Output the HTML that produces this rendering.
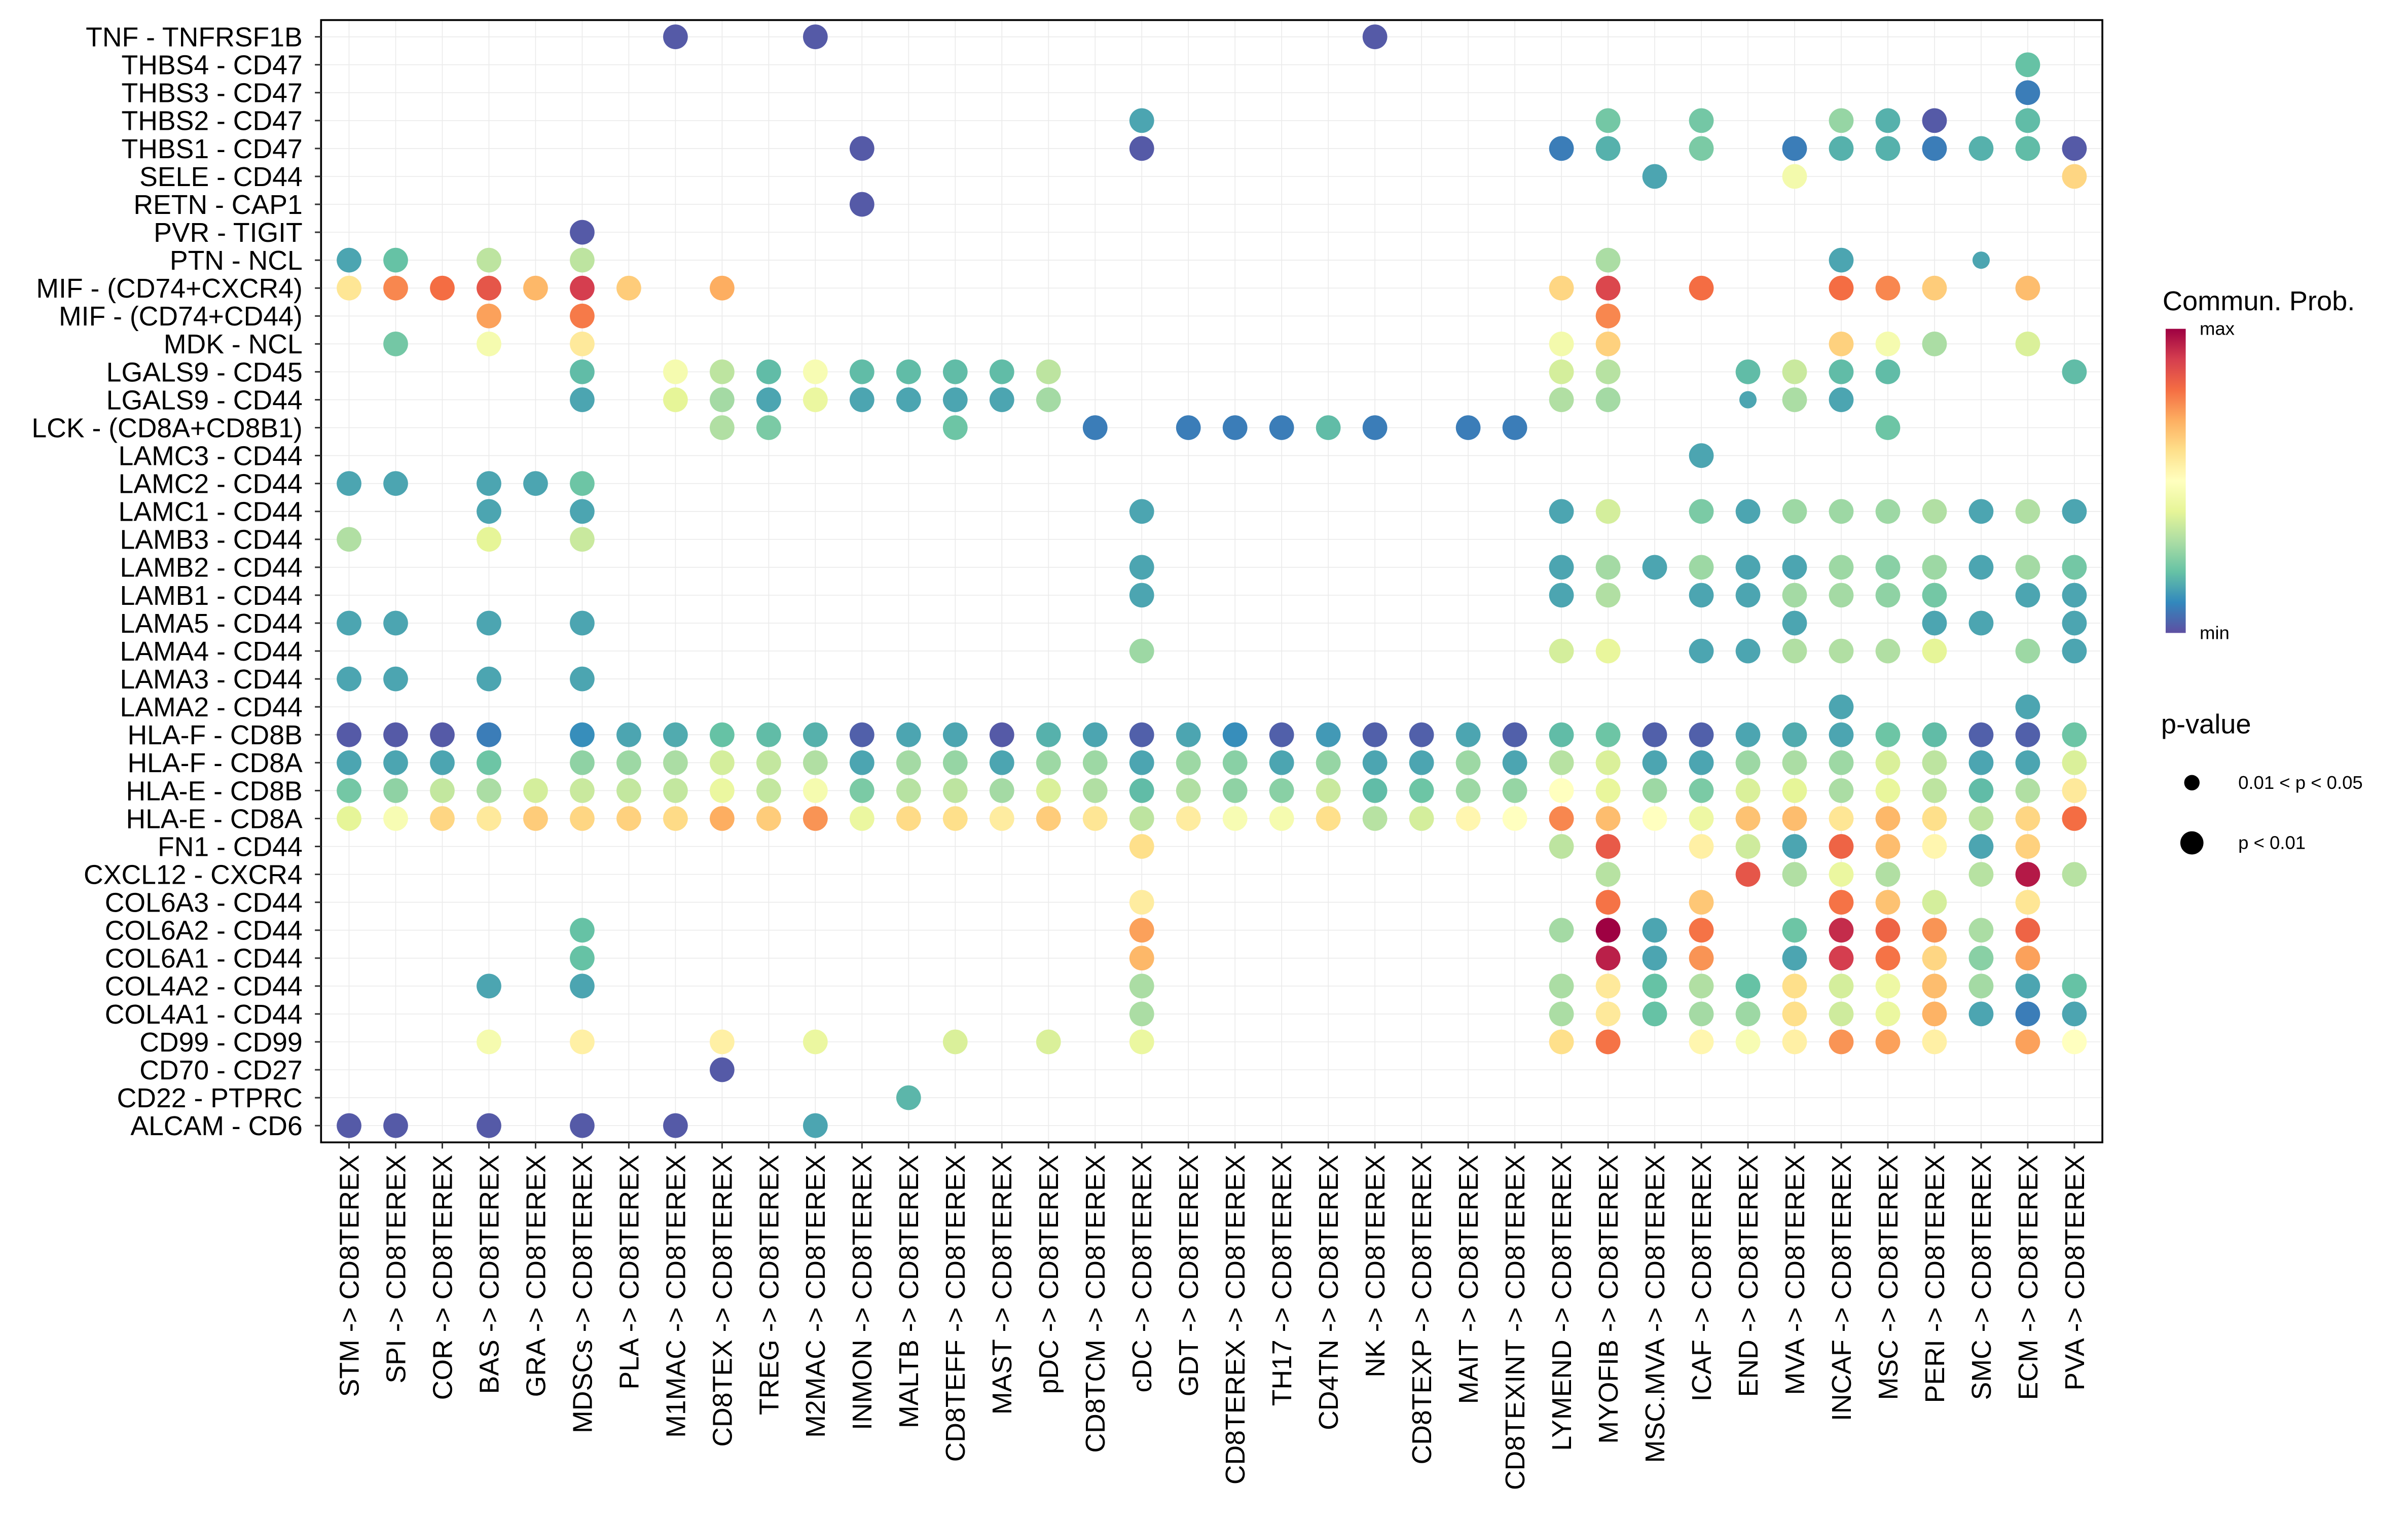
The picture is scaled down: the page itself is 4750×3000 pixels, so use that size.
<!DOCTYPE html>
<html><head><meta charset="utf-8"><style>
html,body{margin:0;padding:0;background:#fff;}
svg{display:block;font-family:"Liberation Sans",Arial,sans-serif;}
</style></head><body>
<svg id="chart" width="4750" height="3000" viewBox="0 0 1560 985.26" xmlns="http://www.w3.org/2000/svg">
<defs>
<linearGradient id="cbar" x1="0" y1="1" x2="0" y2="0">
<stop offset="0" stop-color="#5E4FA2"/><stop offset="0.1" stop-color="#3288BD"/><stop offset="0.2" stop-color="#66C2A5"/><stop offset="0.3" stop-color="#ABDDA4"/><stop offset="0.4" stop-color="#E6F598"/><stop offset="0.5" stop-color="#FFFFBF"/><stop offset="0.6" stop-color="#FEE08B"/><stop offset="0.7" stop-color="#FDAE61"/><stop offset="0.8" stop-color="#F46D43"/><stop offset="0.9" stop-color="#D53E4F"/><stop offset="1" stop-color="#9E0142"/>
</linearGradient>
</defs>
<g id="grid"></g>
<g id="dots"></g>
<rect x="208" y="13" width="1154" height="727" fill="none" stroke="#000" stroke-width="1.2"/>
<g id="ylab"></g>
<g id="xlab"></g>
<g>
<text x="1401" y="201" font-size="17.8">Commun. Prob.</text>
<rect x="1403" y="213" width="13" height="197" fill="url(#cbar)"/>
<text x="1425" y="217" font-size="12">max</text>
<text x="1425" y="414" font-size="12">min</text>
<text x="1400" y="475" font-size="17.8">p-value</text>
<circle cx="1420" cy="507" r="5"/>
<text x="1450" y="511" font-size="12">0.01 &lt; p &lt; 0.05</text>
<circle cx="1420" cy="546" r="7.5"/>
<text x="1450" y="550" font-size="12">p &lt; 0.01</text>
</g>
</svg>
<script>
const colLabels = ["STM","SPI","COR","BAS","GRA","MDSCs","PLA","M1MAC","CD8TEX","TREG","M2MAC","INMON","MALTB","CD8TEFF","MAST","pDC","CD8TCM","cDC","GDT","CD8TEREX","TH17","CD4TN","NK","CD8TEXP","MAIT","CD8TEXINT","LYMEND","MYOFIB","MSC.MVA","ICAF","END","MVA","INCAF","MSC","PERI","SMC","ECM","PVA"];
const targetSuffix = " -> CD8TEREX";
const rowLabels = ["TNF - TNFRSF1B","THBS4 - CD47","THBS3 - CD47","THBS2 - CD47","THBS1 - CD47","SELE - CD44","RETN - CAP1","PVR - TIGIT","PTN - NCL","MIF - (CD74+CXCR4)","MIF - (CD74+CD44)","MDK - NCL","LGALS9 - CD45","LGALS9 - CD44","LCK - (CD8A+CD8B1)","LAMC3 - CD44","LAMC2 - CD44","LAMC1 - CD44","LAMB3 - CD44","LAMB2 - CD44","LAMB1 - CD44","LAMA5 - CD44","LAMA4 - CD44","LAMA3 - CD44","LAMA2 - CD44","HLA-F - CD8B","HLA-F - CD8A","HLA-E - CD8B","HLA-E - CD8A","FN1 - CD44","CXCL12 - CXCR4","COL6A3 - CD44","COL6A2 - CD44","COL6A1 - CD44","COL4A2 - CD44","COL4A1 - CD44","CD99 - CD99","CD70 - CD27","CD22 - PTPRC","ALCAM - CD6"];
// per-row entries "source:prob" ; suffix "s" = 0.01<p<0.05 (small dot)
const rowValues = [
"M1MAC:.02 M2MAC:.02 NK:.02",
"ECM:.2",
"ECM:.08",
"cDC:.15 MYOFIB:.22 ICAF:.22 INCAF:.27 MSC:.17 PERI:.02 ECM:.19",
"INMON:.02 cDC:.02 LYMEND:.08 MYOFIB:.17 ICAF:.23 MVA:.08 INCAF:.17 MSC:.17 PERI:.08 SMC:.17 ECM:.19 PVA:.02",
"MSC.MVA:.15 MVA:.45 PVA:.62",
"INMON:.02",
"MDSCs:.02",
"STM:.15 SPI:.2 BAS:.33 MDSCs:.33 MYOFIB:.3 INCAF:.15 SMC:.15s",
"STM:.58 SPI:.76 COR:.8 BAS:.85 GRA:.68 MDSCs:.9 PLA:.64 CD8TEX:.7 LYMEND:.62 MYOFIB:.88 ICAF:.8 INCAF:.8 MSC:.76 PERI:.64 ECM:.67",
"BAS:.72 MDSCs:.78 MYOFIB:.76",
"SPI:.22 BAS:.46 MDSCs:.57 LYMEND:.45 MYOFIB:.63 INCAF:.63 MSC:.46 PERI:.3 ECM:.38",
"MDSCs:.19 M1MAC:.46 CD8TEX:.33 TREG:.19 M2MAC:.47 INMON:.19 MALTB:.19 CD8TEFF:.19 MAST:.19 pDC:.33 LYMEND:.37 MYOFIB:.32 END:.19 MVA:.35 INCAF:.19 MSC:.19 PVA:.19",
"MDSCs:.15 M1MAC:.4 CD8TEX:.29 TREG:.15 M2MAC:.42 INMON:.15 MALTB:.15 CD8TEFF:.15 MAST:.15 pDC:.29 LYMEND:.31 MYOFIB:.29 END:.15s MVA:.3 INCAF:.15",
"CD8TEX:.31 TREG:.23 CD8TEFF:.21 CD8TCM:.08 GDT:.08 CD8TEREX:.08 TH17:.08 CD4TN:.19 NK:.08 MAIT:.08 CD8TEXINT:.08 MSC:.21",
"ICAF:.15",
"STM:.15 SPI:.15 BAS:.15 GRA:.15 MDSCs:.21",
"BAS:.15 MDSCs:.15 cDC:.15 LYMEND:.15 MYOFIB:.37 ICAF:.23 END:.15 MVA:.28 INCAF:.28 MSC:.28 PERI:.31 SMC:.15 ECM:.31 PVA:.15",
"STM:.31 BAS:.4 MDSCs:.35",
"cDC:.15 LYMEND:.15 MYOFIB:.29 MSC.MVA:.15 ICAF:.28 END:.15 MVA:.15 INCAF:.28 MSC:.25 PERI:.28 SMC:.15 ECM:.29 PVA:.22",
"cDC:.15 LYMEND:.15 MYOFIB:.31 ICAF:.15 END:.15 MVA:.29 INCAF:.29 MSC:.26 PERI:.22 ECM:.15 PVA:.15",
"STM:.15 SPI:.15 BAS:.15 MDSCs:.15 MVA:.15 PERI:.15 SMC:.15 PVA:.15",
"cDC:.28 LYMEND:.37 MYOFIB:.41 ICAF:.15 END:.15 MVA:.31 INCAF:.31 MSC:.31 PERI:.4 ECM:.28 PVA:.15",
"STM:.15 SPI:.15 BAS:.15 MDSCs:.15",
"INCAF:.15 ECM:.15",
"STM:.02 SPI:.02 COR:.02 BAS:.08 MDSCs:.11 PLA:.15 M1MAC:.16 CD8TEX:.2 TREG:.19 M2MAC:.17 INMON:.03 MALTB:.15 CD8TEFF:.15 MAST:.02 pDC:.17 CD8TCM:.15 cDC:.03 GDT:.15 CD8TEREX:.11 TH17:.03 CD4TN:.13 NK:.03 CD8TEXP:.03 MAIT:.15 CD8TEXINT:.03 LYMEND:.19 MYOFIB:.21 MSC.MVA:.03 ICAF:.03 END:.15 MVA:.16 INCAF:.15 MSC:.21 PERI:.19 SMC:.03 ECM:.03 PVA:.21",
"STM:.15 SPI:.15 COR:.15 BAS:.21 MDSCs:.26 PLA:.28 M1MAC:.3 CD8TEX:.37 TREG:.34 M2MAC:.31 INMON:.15 MALTB:.29 CD8TEFF:.27 MAST:.15 pDC:.28 CD8TCM:.28 cDC:.15 GDT:.28 CD8TEREX:.25 TH17:.15 CD4TN:.27 NK:.15 CD8TEXP:.15 MAIT:.28 CD8TEXINT:.15 LYMEND:.32 MYOFIB:.38 MSC.MVA:.15 ICAF:.15 END:.28 MVA:.3 INCAF:.28 MSC:.38 PERI:.33 SMC:.15 ECM:.15 PVA:.38",
"STM:.22 SPI:.26 COR:.34 BAS:.3 GRA:.37 MDSCs:.35 PLA:.34 M1MAC:.34 CD8TEX:.42 TREG:.34 M2MAC:.46 INMON:.23 MALTB:.32 CD8TEFF:.33 MAST:.29 pDC:.38 CD8TCM:.31 cDC:.19 GDT:.31 CD8TEREX:.26 TH17:.25 CD4TN:.35 NK:.19 CD8TEXP:.21 MAIT:.28 CD8TEXINT:.27 LYMEND:.5 MYOFIB:.41 MSC.MVA:.28 ICAF:.23 END:.38 MVA:.4 INCAF:.3 MSC:.41 PERI:.33 SMC:.19 ECM:.31 PVA:.57",
"STM:.4 SPI:.47 COR:.62 BAS:.57 GRA:.64 MDSCs:.62 PLA:.63 M1MAC:.61 CD8TEX:.7 TREG:.64 M2MAC:.74 INMON:.42 MALTB:.61 CD8TEFF:.6 MAST:.56 pDC:.64 CD8TCM:.58 cDC:.33 GDT:.56 CD8TEREX:.47 TH17:.46 CD4TN:.6 NK:.32 CD8TEXP:.37 MAIT:.53 CD8TEXINT:.5 LYMEND:.76 MYOFIB:.67 MSC.MVA:.5 ICAF:.43 END:.66 MVA:.67 INCAF:.58 MSC:.68 PERI:.6 SMC:.33 ECM:.62 PVA:.8",
"cDC:.6 LYMEND:.33 MYOFIB:.84 ICAF:.55 END:.36 MVA:.15 INCAF:.82 MSC:.67 PERI:.53 SMC:.15 ECM:.63",
"MYOFIB:.32 END:.85 MVA:.31 INCAF:.42 MSC:.31 SMC:.32 ECM:.96 PVA:.32",
"cDC:.56 MYOFIB:.79 ICAF:.65 INCAF:.79 MSC:.66 PERI:.37 ECM:.58",
"MDSCs:.2 cDC:.72 LYMEND:.29 MYOFIB:1 MSC.MVA:.15 ICAF:.79 MVA:.21 INCAF:.93 MSC:.82 PERI:.74 SMC:.3 ECM:.82",
"MDSCs:.2 cDC:.68 MYOFIB:.95 MSC.MVA:.15 ICAF:.74 MVA:.15 INCAF:.9 MSC:.79 PERI:.62 SMC:.25 ECM:.72",
"BAS:.15 MDSCs:.15 cDC:.3 LYMEND:.3 MYOFIB:.57 MSC.MVA:.2 ICAF:.31 END:.2 MVA:.6 INCAF:.37 MSC:.43 PERI:.67 SMC:.29 ECM:.15 PVA:.2",
"cDC:.3 LYMEND:.3 MYOFIB:.57 MSC.MVA:.2 ICAF:.29 END:.28 MVA:.6 INCAF:.36 MSC:.42 PERI:.69 SMC:.15 ECM:.08 PVA:.15",
"BAS:.46 MDSCs:.55 CD8TEX:.55 M2MAC:.42 CD8TEFF:.38 pDC:.38 cDC:.42 LYMEND:.6 MYOFIB:.79 ICAF:.53 END:.47 MVA:.55 INCAF:.74 MSC:.72 PERI:.55 ECM:.72 PVA:.5",
"CD8TEX:.02",
"MALTB:.18",
"STM:.02 SPI:.02 BAS:.02 MDSCs:.02 M1MAC:.02 M2MAC:.15"
];
const NS = "http://www.w3.org/2000/svg";
const panel = {l:208, t:13, r:1362, b:740};
const nCol = colLabels.length, nRow = rowLabels.length;
function xScale(i){ const u=(panel.r-panel.l)/(nCol-1+1.2); return panel.l+u*(i+0.6); }
function yScale(j){ const u=(panel.b-panel.t)/(nRow-1+1.2); return panel.t+u*(j+0.6); }
const stops = ["#5E4FA2","#3288BD","#66C2A5","#ABDDA4","#E6F598","#FFFFBF","#FEE08B","#FDAE61","#F46D43","#D53E4F","#9E0142"];
function hex(h){return [1,3,5].map(k=>parseInt(h.substr(k,2),16));}
function colorScale(v){ v=Math.max(0,Math.min(1,v)); const p=v*10, i=Math.min(9,Math.floor(p)), f=p-i; const a=hex(stops[i]), b=hex(stops[i+1]); return "rgb("+a.map((c,k)=>Math.round(c+(b[k]-c)*f)).join(",")+")"; }
function mk(tag, attrs, parent){ const e=document.createElementNS(NS,tag); for(const k in attrs) e.setAttribute(k,attrs[k]); parent.appendChild(e); return e; }
const grid=document.getElementById("grid"), dots=document.getElementById("dots"), ylab=document.getElementById("ylab"), xlab=document.getElementById("xlab");
for(let i=0;i<nCol;i++){
  const gl=mk("line",{x1:xScale(i),x2:xScale(i),y1:panel.t,y2:panel.b,stroke:"#ebebeb","stroke-width":0.55},grid);
  
  
  const tk=mk("line",{x1:xScale(i),x2:xScale(i),y1:panel.b,y2:panel.b+4,stroke:"#333","stroke-width":1},xlab);
  
  
  const tx=mk("text",{x:0,y:0,"font-size":17.6,"text-anchor":"end",fill:"#000",transform:"translate("+(xScale(i)+6.2)+","+(panel.b+8)+") rotate(-90)"},xlab);
  tx.textContent=colLabels[i]+targetSuffix;
  
  
}
for(let j=0;j<nRow;j++){
  const gl=mk("line",{x1:panel.l,x2:panel.r,y1:yScale(j),y2:yScale(j),stroke:"#ebebeb","stroke-width":0.55},grid);
  
  
  const tk=mk("line",{x1:panel.l-4,x2:panel.l,y1:yScale(j),y2:yScale(j),stroke:"#333","stroke-width":1},ylab);
  
  
  const tx=mk("text",{x:panel.l-12,y:yScale(j)+6.2,"font-size":17.6,"text-anchor":"end",fill:"#000"},ylab);
  tx.textContent=rowLabels[j];
  
  
  rowValues[j].trim().split(/\s+/).forEach(tok=>{
    if(!tok) return;
    const idx=tok.lastIndexOf(":"); const name=tok.slice(0,idx); let val=tok.slice(idx+1);
    const small=val.endsWith("s"); if(small) val=val.slice(0,-1);
    const ci=colLabels.indexOf(name); if(ci<0) return;
    const c=mk("circle",{cx:xScale(ci),cy:yScale(j),r:small?5.6:8,fill:colorScale(parseFloat(val))},dots);
    
    
  });
}
</script>
</body></html>
